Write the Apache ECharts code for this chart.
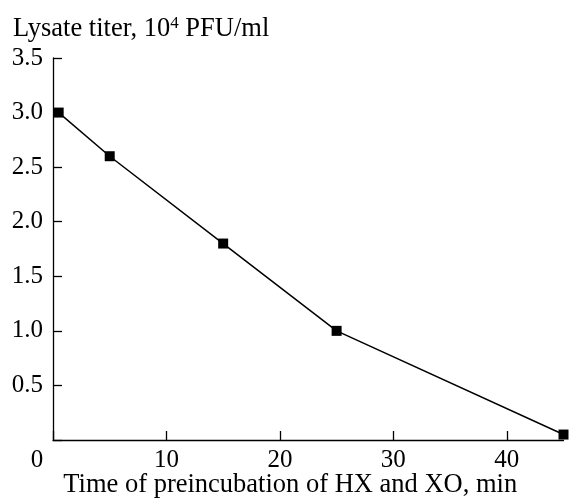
<!DOCTYPE html>
<html>
<head>
<meta charset="utf-8">
<script src="https://cdn.jsdelivr.net/npm/echarts@6/dist/echarts.min.js"></script>
<style>
  html, body { margin: 0; padding: 0; background: #fff; }
  #main { width: 569px; height: 498px; }
</style>
</head>
<body>
<div id="main"></div>
<script>
// 数据
var times = [0.5, 5, 15, 25, 45];
var titers = [3.0, 2.6, 1.8, 1.0, 0.05];
var xTicks = [0, 10, 20, 30, 40];
var yTicks = [0.5, 1.0, 1.5, 2.0, 2.5, 3.0, 3.5];

var FONT = 'Liberation Serif';
var FS = 25;

var myChart = echarts.init(document.getElementById('main'));

var option = {
    backgroundColor: '#fff',
    animation: false,
    title: {
        text: '{a|Lysate titer, 10}{s|4}{a| PFU/ml}',
        left: 8,
        top: 10,
        textStyle: {
            fontWeight: 'normal',
            rich: {
                a: { fontFamily: FONT, fontSize: 26.5, fontWeight: 'normal', color: '#000', lineHeight: 28 },
                s: { fontFamily: FONT, fontSize: 17, fontWeight: 'normal', color: '#000', lineHeight: 28, verticalAlign: 'top', padding: [0, 0, 12, 0] }
            }
        }
    },
    grid: {
        left: 53,
        right: 5.5,
        top: 58,
        bottom: 58,
        outerBoundsMode: 'none'
    },
    xAxis: {
        type: 'value',
        min: 0,
        max: 45,
        interval: 10,
        name: 'Time of preincubation of HX and XO, min',
        nameLocation: 'middle',
        nameGap: 32,
        nameMoveOverlap: false,
        nameTextStyle: { fontFamily: FONT, fontSize: 26.5, color: '#000', padding: [0, 36, 0, 0] },
        axisLine: { lineStyle: { color: '#000', width: 1.3 } },
        axisTick: { inside: true, length: 9, lineStyle: { color: '#000', width: 1.3 } },
        splitLine: { show: false },
        axisLabel: {
            fontFamily: FONT,
            fontSize: FS,
            color: '#000',
            margin: 8,
            showMaxLabel: false,
            formatter: function (v) {
                if (v === 0) return '{z|0}';
                return xTicks.indexOf(v) >= 0 ? String(v) : '';
            },
            rich: {
                z: { fontFamily: FONT, fontSize: FS, color: '#000', padding: [0, 32, 0, 0] }
            }
        }
    },
    yAxis: {
        type: 'value',
        min: 0,
        max: 3.5,
        interval: 0.5,
        axisLine: { lineStyle: { color: '#000', width: 1.3 } },
        axisTick: { inside: true, length: 9, lineStyle: { color: '#000', width: 1.3 } },
        splitLine: { show: false },
        axisLabel: {
            fontFamily: FONT,
            fontSize: FS,
            color: '#000',
            margin: 10,
            formatter: function (v) {
                for (var i = 0; i < yTicks.length; i++) {
                    if (Math.abs(yTicks[i] - v) < 1e-6) return yTicks[i].toFixed(1);
                }
                return '';
            }
        }
    },
    series: [{
        type: 'line',
        data: times.map(function (t, i) { return [t, titers[i]]; }),
        symbol: 'rect',
        symbolSize: 10,
        itemStyle: { color: '#000' },
        lineStyle: { color: '#000', width: 1.5 }
    }]
};

myChart.setOption(option);
</script>
</body>
</html>
